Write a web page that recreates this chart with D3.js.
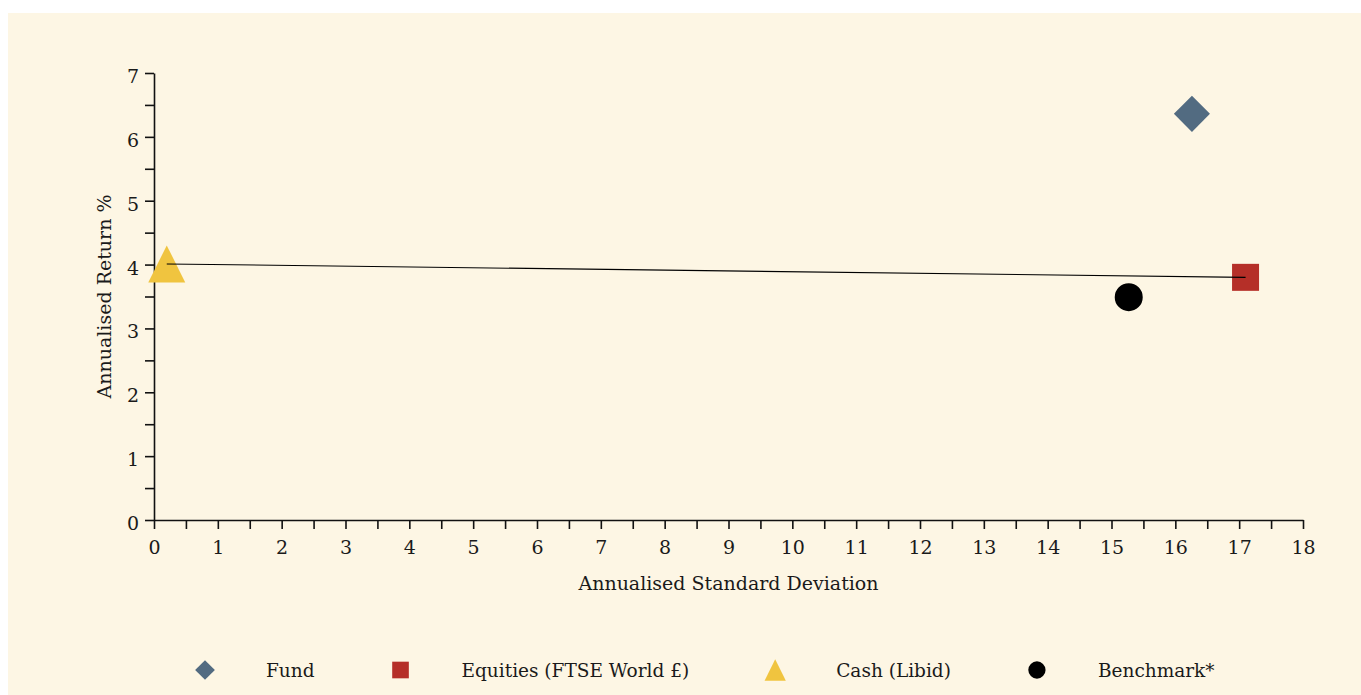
<!DOCTYPE html>
<html><head><meta charset="utf-8">
<script src="https://cdn.jsdelivr.net/npm/d3@7"></script>
<style>
html,body{margin:0;padding:0;background:#fff;}
svg{display:block;}
text{font-family:"DejaVu Serif",serif;fill:#1a1a1a;}
</style></head>
<body>
<script>
const names = ["Fund", "Equities (FTSE World £)", "Cash (Libid)", "Benchmark*"];
const risk = [16.26, 17.10, 0.20, 15.27];
const ret = [6.36, 3.80, 4.01, 3.49];
const colors = ["#526b81", "#b52f28", "#f0c43f", "#000000"];
const shapes = ["diamond", "square", "triangle", "circle"];
const xTicks = d3.range(0, 19, 1);
const yTicks = d3.range(0, 8, 1);
const lineFrom = 2, lineTo = 1;

const W = 1361, H = 695;
const svg = d3.select("body").append("svg").attr("width", W).attr("height", H);
svg.append("rect").attr("x", 8).attr("y", 13).attr("width", W - 8).attr("height", H - 13).attr("fill", "#fdf6e4");

const x = d3.scaleLinear().domain([0, 18]).range([154, 1303]);
const y = d3.scaleLinear().domain([0, 7]).range([520, 73]);

// axes
const xAxis = svg.append("g").attr("transform", "translate(0,520)")
  .call(d3.axisBottom(x).tickValues(d3.range(0, 18.5, 0.5)).tickSize(9).tickFormat(d => xTicks.includes(d) ? d : "").tickSizeOuter(0));
const yAxis = svg.append("g").attr("transform", "translate(154,0)")
  .call(d3.axisLeft(y).tickValues(d3.range(0, 7.5, 0.5)).tickSize(9).tickFormat(d => yTicks.includes(d) ? d : "").tickSizeOuter(0));
[xAxis, yAxis].forEach(a => {
  a.select(".domain").attr("stroke", "#111").attr("stroke-width", 1.6);
  a.selectAll(".tick line").attr("stroke", "#111").attr("stroke-width", 1.6);
  a.selectAll(".tick text").style("font-family", '"DejaVu Serif",serif').style("font-size", "19px").attr("fill", "#1a1a1a");
});
xAxis.selectAll(".tick text").attr("y", 21);
yAxis.selectAll(".tick text").attr("x", -15).attr("dy", "0.5em");

svg.append("text").attr("x", (154 + 1303) / 2).attr("y", 590).attr("text-anchor", "middle")
  .style("font-size", "19px").text("Annualised Standard Deviation");
svg.append("text").attr("transform", `translate(111,${(73 + 520) / 2}) rotate(-90)`).attr("text-anchor", "middle")
  .style("font-size", "19px").text("Annualised Return %");

// custom shapes (bbox centered)
const tri = { draw(ctx, size) { const h = Math.sqrt(size); ctx.moveTo(0, -h / 2); ctx.lineTo(h / 2, h / 2); ctx.lineTo(-h / 2, h / 2); ctx.closePath(); } };
const diamond = { draw(ctx, size) { const r = Math.sqrt(size) / 2; ctx.moveTo(0, -r); ctx.lineTo(r, 0); ctx.lineTo(0, r); ctx.lineTo(-r, 0); ctx.closePath(); } };
function sym(shape, scale) {
  if (shape === "diamond") return d3.symbol().type(diamond).size(1300 * scale)();
  if (shape === "square") return d3.symbol().type(d3.symbolSquare).size(729 * scale)();
  if (shape === "triangle") return d3.symbol().type(tri).size(1369 * scale)();
  return d3.symbol().type(d3.symbolCircle).size(616 * scale)();
}

// points
const idx = d3.range(names.length);
svg.append("g").selectAll("path").data(idx).join("path")
  .attr("transform", i => `translate(${x(risk[i])},${y(ret[i])})`)
  .attr("d", i => sym(shapes[i], 1)).attr("fill", i => colors[i]);

// line cash -> equities
svg.append("line").attr("x1", x(risk[lineFrom])).attr("y1", y(ret[lineFrom]))
  .attr("x2", x(risk[lineTo])).attr("y2", y(ret[lineTo])).attr("stroke", "#000").attr("stroke-width", 1.1);

// legend
const lg = svg.append("g");
let cx = 205;
idx.forEach(i => {
  lg.append("path").attr("transform", `translate(${cx},670)`).attr("d", sym(shapes[i], i === 0 ? 0.3 : (i === 2 ? 0.33 : 0.38))).attr("fill", colors[i]);
  const t = lg.append("text").attr("x", cx + 61).attr("y", 677).style("font-size", "18.5px").text(names[i]);
  cx = cx + 61 + t.node().getComputedTextLength() + 86;
});
</script>
</body></html>
